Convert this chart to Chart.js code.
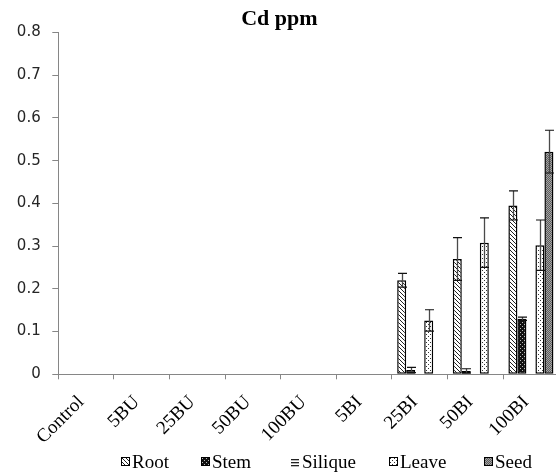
<!DOCTYPE html>
<html>
<head>
<meta charset="utf-8">
<script src="https://cdn.jsdelivr.net/npm/chart.js@4.4.1/dist/chart.umd.min.js"></script>
<style>
  html, body { margin: 0; padding: 0; background: #fff; overflow: hidden; }
  #wrap { width: 560px; height: 475px; }
</style>
</head>
<body>
<div id="wrap"><canvas id="cdChart" width="560" height="475"></canvas></div>
<script>
// data
const categories = ['Control', '5BU', '25BU', '50BU', '100BU', '5BI', '25BI', '50BI', '100BI'];
const seriesNames = ['Root', 'Stem', 'Silique', 'Leave', 'Seed'];

const root = [0, 0, 0, 0, 0, 0, 0.22, 0.27, 0.395];
const stem = [0, 0, 0, 0, 0, 0, 0.01, 0.008, 0.13];
const silique = [0, 0, 0, 0, 0, 0, 0, 0, 0];
const leave = [0, 0, 0, 0, 0, 0, 0.126, 0.308, 0.302];
const seed = [0, 0, 0, 0, 0, 0, 0, 0, 0.521];

const rootErr = [0, 0, 0, 0, 0, 0, 0.016, 0.05, 0.034];
const stemErr = [0, 0, 0, 0, 0, 0, 0.006, 0.005, 0.004];
const siliqueErr = [0, 0, 0, 0, 0, 0, 0, 0, 0];
const leaveErr = [0, 0, 0, 0, 0, 0, 0.025, 0.058, 0.059];
const seedErr = [0, 0, 0, 0, 0, 0, 0, 0, 0.05];

const yTicks = { min: 0, max: 0.8, step: 0.1 };

// small tiles to imitate the excel fill patterns
function makePattern(size, draw) {
  const c = document.createElement('canvas');
  c.width = size;
  c.height = size;
  const g = c.getContext('2d');
  draw(g);
  return g.createPattern(c, 'repeat');
}

const rootFill = makePattern(4, (g) => {
  g.fillStyle = '#fff';
  g.fillRect(0, 0, 4, 4);
  g.fillStyle = '#222';
  for (let i = 0; i < 4; i++) g.fillRect(i, i, 1, 1);
});
const stemFill = makePattern(4, (g) => {
  g.fillStyle = '#111';
  g.fillRect(0, 0, 4, 4);
  g.fillStyle = '#bbb';
  g.fillRect(0, 0, 1, 1);
  g.fillRect(2, 2, 1, 1);
});
const siliqueFill = makePattern(3, (g) => {
  g.fillStyle = '#fff';
  g.fillRect(0, 0, 3, 3);
  g.fillStyle = '#222';
  g.fillRect(0, 0, 3, 1);
});
const leaveFill = makePattern(4, (g) => {
  g.fillStyle = '#fff';
  g.fillRect(0, 0, 4, 4);
  g.fillStyle = '#333';
  g.fillRect(0, 0, 1, 1);
  g.fillRect(2, 2, 1, 1);
});
const seedFill = makePattern(2, (g) => {
  g.fillStyle = '#5c5c5c';
  g.fillRect(0, 0, 2, 2);
  g.fillStyle = '#a4a4a4';
  g.fillRect(0, 0, 1, 1);
  g.fillRect(1, 1, 1, 1);
});

const fills = [rootFill, stemFill, siliqueFill, leaveFill, seedFill];
const values = [root, stem, silique, leave, seed];
const errors = [rootErr, stemErr, siliqueErr, leaveErr, seedErr];

// error bars, drawn with the chart's own y scale
const errorBars = {
  id: 'errorBars',
  afterDatasetsDraw(chart) {
    const ctx = chart.ctx;
    const y = chart.scales.y;
    ctx.save();
    chart.data.datasets.forEach((ds, i) => {
      const meta = chart.getDatasetMeta(i);
      meta.data.forEach((bar, j) => {
        const v = ds.data[j];
        const e = ds.errors[j];
        if (!e || !v) return;
        const x = Math.round(bar.x) + 0.5;
        const top = y.getPixelForValue(v + e);
        const bot = y.getPixelForValue(Math.max(v - e, 0));
        ctx.strokeStyle = '#4a4a4a';
        ctx.lineWidth = 1.3;
        ctx.beginPath();
        ctx.moveTo(x, bot);
        ctx.lineTo(x, top);
        ctx.stroke();
        ctx.strokeStyle = '#111';
        ctx.lineWidth = 1.2;
        ctx.beginPath();
        ctx.moveTo(x - 4.5, top);
        ctx.lineTo(x + 4.5, top);
        ctx.moveTo(x - 4.5, bot);
        ctx.lineTo(x + 4.5, bot);
        ctx.stroke();
      });
    });
    ctx.restore();
  }
};

// legend laid out like the excel one
const legendX = [121, 201, 291, 389, 484];
const excelLegend = {
  id: 'excelLegend',
  afterDraw(chart) {
    const ctx = chart.ctx;
    ctx.save();
    ctx.font = '19px "Liberation Serif"';
    ctx.textBaseline = 'alphabetic';
    chart.data.datasets.forEach((ds, i) => {
      const x = legendX[i];
      const top = 457;
      if (ds.label === 'Silique') {
        ctx.fillStyle = '#222';
        ctx.fillRect(x, 459, 8, 1.3);
        ctx.fillRect(x, 462, 8, 1.3);
        ctx.fillRect(x, 465, 8, 1.3);
      } else {
        ctx.fillStyle = ds.backgroundColor;
        ctx.fillRect(x, top, 9, 9);
        ctx.strokeStyle = '#000';
        ctx.lineWidth = 1;
        ctx.strokeRect(x + 0.5, top + 0.5, 8, 8);
      }
      ctx.fillStyle = '#000';
      ctx.fillText(ds.label, x + 11, 468);
    });
    ctx.restore();
  }
};

const ctx = document.getElementById('cdChart').getContext('2d');

new Chart(ctx, {
  type: 'bar',
  data: {
    labels: categories,
    datasets: seriesNames.map((name, i) => ({
      label: name,
      data: values[i],
      errors: errors[i],
      backgroundColor: fills[i],
      borderColor: '#000',
      borderWidth: 1.5,
      borderSkipped: false,
      categoryPercentage: 0.81,
      barPercentage: 1.0
    }))
  },
  options: {
    responsive: false,
    animation: false,
    layout: { padding: { left: 0, right: 1.3, top: 0, bottom: 0 } },
    plugins: {
      legend: { display: false },
      tooltip: { enabled: false },
      title: {
        display: true,
        text: 'Cd ppm',
        color: '#000',
        font: { family: 'Liberation Serif', size: 22, weight: 'bold', lineHeight: 1.2 },
        padding: { top: 6, bottom: 0 }
      }
    },
    scales: {
      x: {
        grid: { offset: true, drawOnChartArea: false, tickLength: 5, color: '#868686' },
        border: { color: '#868686' },
        ticks: {
          autoSkip: false,
          minRotation: 45,
          maxRotation: 45,
          color: '#000',
          padding: 12,
          labelOffset: -5,
          font: { family: 'Liberation Serif', size: 19 }
        },
        afterFit: (s) => { s.height = 100.7; }
      },
      y: {
        min: yTicks.min,
        max: yTicks.max,
        ticks: {
          stepSize: yTicks.step,
          color: '#262626',
          padding: 11.6,
          font: { family: 'DejaVu Sans', size: 15 }
        },
        grid: { drawOnChartArea: false, tickLength: 6, color: '#868686' },
        border: { color: '#868686' },
        afterFit: (s) => { s.width = 58.3; }
      }
    }
  },
  plugins: [errorBars, excelLegend]
});
</script>
</body>
</html>
